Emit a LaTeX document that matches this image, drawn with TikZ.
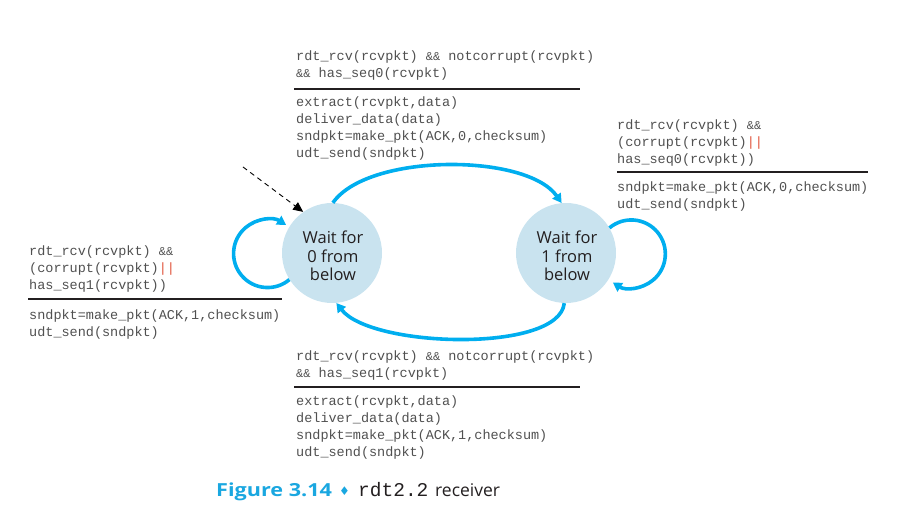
\documentclass[tikz,border=0pt]{standalone}
\usepackage{fontspec}
\usetikzlibrary{arrows.meta}
\newfontfamily\codefont{Liberation Mono}
\newfontfamily\statefont{Open Sans}
\newfontfamily\capfont{Open Sans}
\newfontfamily\figfont[FakeStretch=1.2]{Open Sans}
\newfontfamily\symfont{DejaVu Sans}
\definecolor{fsmcyan}{HTML}{00AEEF}
\definecolor{capcyan}{HTML}{1AA7E0}
\definecolor{statefill}{HTML}{C9E3EF}
\definecolor{codegray}{HTML}{505050}
\definecolor{orred}{HTML}{E0533B}
\definecolor{darkline}{HTML}{231F20}
\newcommand{\orr}{\textcolor{orred}{||}}
\newcommand{\andand}{{\fontsize{12}{14}\selectfont\&\&}}
\begin{document}
\begin{tikzpicture}[x=1pt,y=1pt,
  code/.style={font=\codefont\fontsize{13.5}{16}\selectfont, text=codegray, anchor=base west, inner sep=0pt},
  fsmstate/.style={circle, fill=statefill, minimum size=100pt, inner sep=0pt},
  statelabel/.style={inner sep=0pt, align=center,
     font=\statefont\fontsize{16.5}{18.5}\selectfont, text=darkline},
  trans/.style={draw=fsmcyan, line width=3.6pt, -{Triangle[length=9pt,width=10pt]}},
  rulebar/.style={draw=darkline, line width=1.1pt}]
\useasboundingbox (0,0) rectangle (897,519);
% states
\node[fsmstate] (s0) at (332,266) {};
\node[statelabel] (s0t) at (333,263) {Wait for\\0 from\\below};
\node[fsmstate] (s1) at (566,266) {};
\node[statelabel] (s1t) at (567,263) {Wait for\\1 from\\below};
% initial dashed arrow
\coordinate (init) at (243,352);
\draw[dashed, dash pattern=on 5pt off 4pt, line width=0.9pt, -{Triangle[length=10pt,width=9pt]}] (init) -- (s0.125);
% transitions
\draw[trans] (s0.89) .. controls +(35,50) and +(-35,50) .. (s1.95);
\draw[trans] (s1.268) .. controls +(-5,-50) and +(35,-45) .. (s0.275);
\draw[trans] (s0.212) arc[start angle=-50, end angle=-303, radius=34];
\draw[trans] (s1.30) arc[start angle=130, end angle=-123, radius=34];
% top block
\node[code] (t1) at (296,458) {rdt\_rcv(rcvpkt) \andand{} notcorrupt(rcvpkt)};
\node[code] (t2) at (296,441) {\andand{} has\_seq0(rcvpkt)};
\coordinate (tra) at (294,430); \coordinate (trb) at (580,430);
\draw[rulebar] (tra) -- (trb);
\node[code] (t3) at (296,412) {extract(rcvpkt,data)};
\node[code] (t4) at (296,395) {deliver\_data(data)};
\node[code] (t5) at (296,378) {sndpkt=make\_pkt(ACK,0,checksum)};
\node[code] (t6) at (296,361) {udt\_send(sndpkt)};
% right block
\node[code] (r1) at (617,389) {rdt\_rcv(rcvpkt) \andand};
\node[code] (r2) at (617,372) {(corrupt(rcvpkt)\orr};
\node[code] (r3) at (617,355) {has\_seq0(rcvpkt))};
\coordinate (rra) at (617,347); \coordinate (rrb) at (868,347);
\draw[rulebar] (rra) -- (rrb);
\node[code] (r4) at (617,327) {sndpkt=make\_pkt(ACK,0,checksum)};
\node[code] (r5) at (617,310) {udt\_send(sndpkt)};
% left block
\node[code] (l1) at (29,263) {rdt\_rcv(rcvpkt) \andand};
\node[code] (l2) at (29,246) {(corrupt(rcvpkt)\orr};
\node[code] (l3) at (29,229) {has\_seq1(rcvpkt))};
\coordinate (lra) at (28,220); \coordinate (lrb) at (282,220);
\draw[rulebar] (lra) -- (lrb);
\node[code] (l4) at (29,199) {sndpkt=make\_pkt(ACK,1,checksum)};
\node[code] (l5) at (29,182) {udt\_send(sndpkt)};
% bottom block
\node[code] (b1) at (296,158) {rdt\_rcv(rcvpkt) \andand{} notcorrupt(rcvpkt)};
\node[code] (b2) at (296,141) {\andand{} has\_seq1(rcvpkt)};
\coordinate (bra) at (294,132); \coordinate (brb) at (580,132);
\draw[rulebar] (bra) -- (brb);
\node[code] (b3) at (296,113) {extract(rcvpkt,data)};
\node[code] (b4) at (296,96) {deliver\_data(data)};
\node[code] (b5) at (296,79) {sndpkt=make\_pkt(ACK,1,checksum)};
\node[code] (b6) at (296,62) {udt\_send(sndpkt)};
% caption
\node[anchor=base west, inner sep=0pt, font=\figfont\bfseries\fontsize{18}{20}\selectfont, text=capcyan] (cap1) at (216,22) {Figure 3.14};
\node[anchor=base west, inner sep=0pt, font=\symfont\fontsize{12}{14}\selectfont, text=capcyan] (cap2) at (339,23) {♦};
\node[anchor=base west, inner sep=0pt, font=\codefont\fontsize{19.5}{22}\selectfont, text=darkline] (cap3) at (358,22) {rdt2.2};
\node[anchor=base west, inner sep=0pt, font=\capfont\fontsize{17.5}{20}\selectfont, text=darkline] (cap4) at (435,22) {receiver};
\end{tikzpicture}
\end{document}
